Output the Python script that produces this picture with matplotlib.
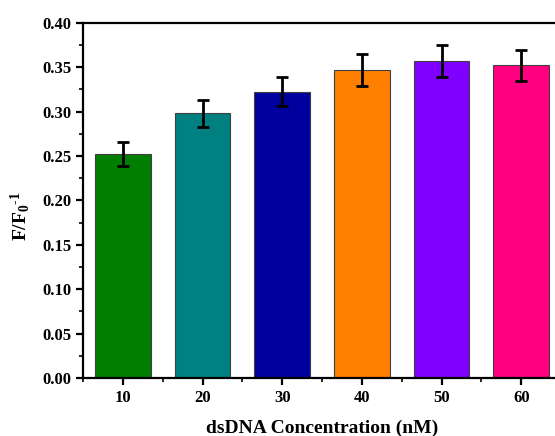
import matplotlib
matplotlib.use("Agg")
import matplotlib.pyplot as plt
from matplotlib.ticker import MultipleLocator

concentrations = [10, 20, 30, 40, 50, 60]
values = [0.252, 0.298, 0.322, 0.347, 0.357, 0.352]
errors = [0.0135, 0.015, 0.0163, 0.0178, 0.018, 0.0175]
colors = ["#007F00", "#008080", "#00009F", "#FF8000", "#8000FF", "#FF0080"]
xlabel = "dsDNA Concentration (nM)"
ylabel = r"F/F$_\mathbf{0}$$^{\text{-1}}$"

plt.rcParams['font.family'] = ['Liberation Serif', 'DejaVu Serif']
plt.rcParams['font.weight'] = 'bold'
plt.rcParams['mathtext.fontset'] = 'custom'
plt.rcParams['mathtext.rm'] = 'Liberation Serif:bold'
plt.rcParams['mathtext.bf'] = 'Liberation Serif:bold'
plt.rcParams['mathtext.default'] = 'bf'

fig = plt.figure(figsize=(5.55, 4.36), dpi=100)
ax = fig.add_axes([0.1495, 0.133, 0.8615, 0.815])

ax.bar(concentrations, values, width=7, color=colors, edgecolor="#404040", linewidth=0.8,
       yerr=errors, error_kw=dict(ecolor="black", elinewidth=2, capsize=4, capthick=2))

ax.set_xlim(5, 65)
ax.set_ylim(0, 0.40)
ax.set_xticks(concentrations)
ax.xaxis.set_minor_locator(MultipleLocator(5))
ax.yaxis.set_major_locator(MultipleLocator(0.05))
ax.yaxis.set_minor_locator(MultipleLocator(0.025))
ax.set_yticklabels([f"{v:.2f}" for v in ax.get_yticks()])

for s in ax.spines.values():
    s.set_linewidth(1.6)

ax.tick_params(which='major', direction='out', length=5, width=1.6, labelsize=12)
ax.tick_params(which='minor', direction='out', length=3, width=1.2)

ax.set_xlabel(xlabel, fontsize=14, fontweight='bold', labelpad=10)
ax.set_ylabel(ylabel, fontsize=14, fontweight='bold')
ax.yaxis.set_label_coords(-0.106, 0.456)

fig.savefig("out.png", dpi=100)
